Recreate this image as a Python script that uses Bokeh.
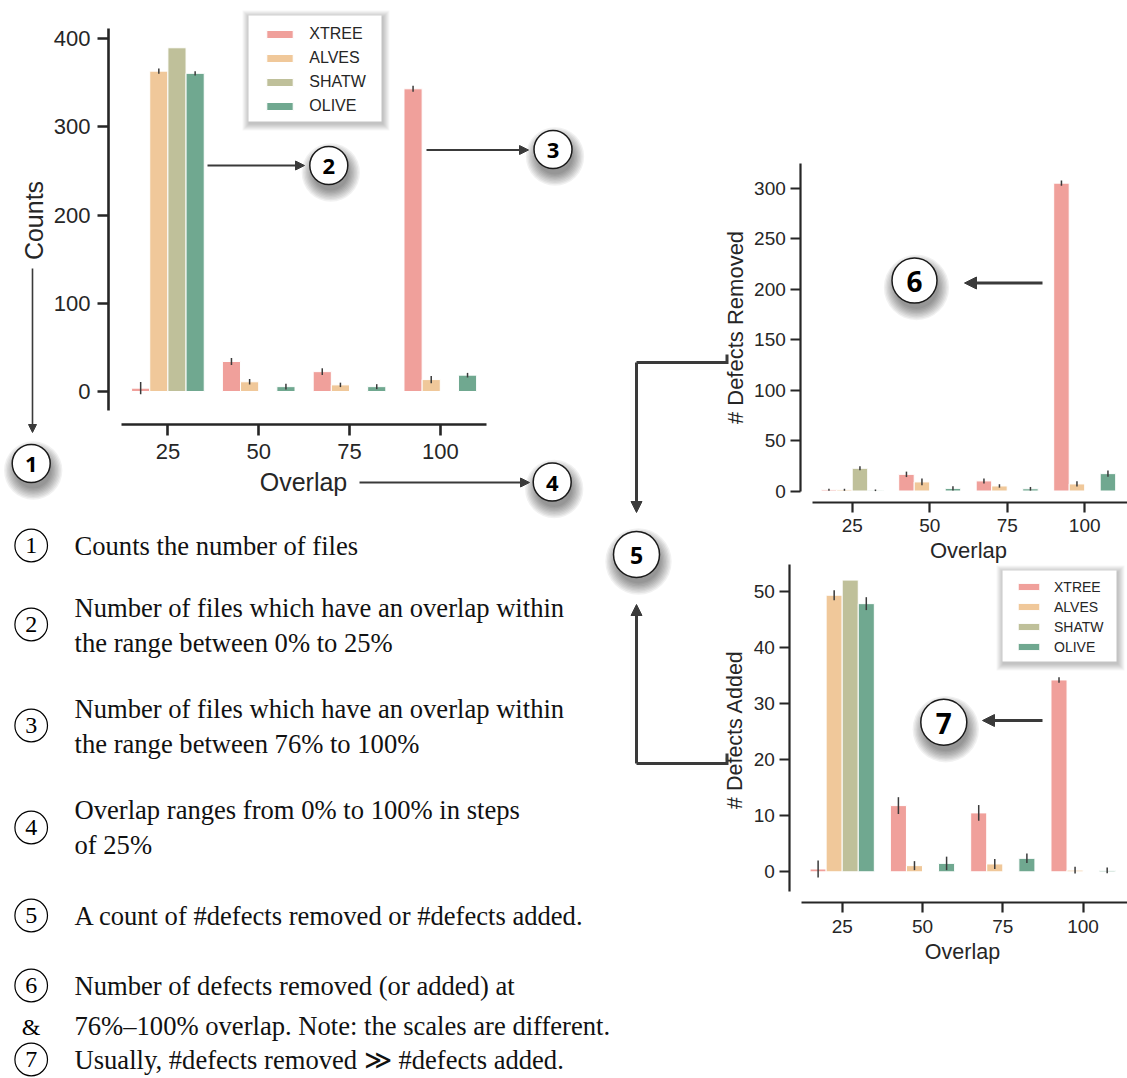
import math
from bokeh.plotting import figure
from bokeh.models import (Range1d, LinearAxis, FixedTicker, ColumnDataSource, Arrow,
                          NormalHead, Legend, LegendItem)
from bokeh.core.properties import value
from bokeh.embed import file_html
from bokeh.resources import INLINE

# ---------------- data ----------------
categories = ["25", "50", "75", "100"]
series = ["XTREE", "ALVES", "SHATW", "OLIVE"]
colors = ["#f0a09b", "#f0c89a", "#bfc09a", "#70a890"]

# Chart 1: Counts
counts_xtree = [3.8, 34.0, 22.5, 343.0]
counts_alves = [363.0, 11.0, 7.5, 13.5]
counts_shatw = [389.5, 0.0, 0.0, 0.0]
counts_olive = [360.5, 5.5, 5.5, 18.5]
counts_err_xtree = [7.0, 4.0, 3.8, 3.4]
counts_err_alves = [3.0, 3.2, 2.5, 4.2]
counts_err_shatw = [0.0, 0.0, 0.0, 0.0]
counts_err_olive = [2.5, 3.2, 2.8, 2.6]

# Chart 2: # Defects Removed
removed_xtree = [1.2, 16.5, 10.0, 305.0]
removed_alves = [1.2, 9.0, 5.0, 7.0]
removed_shatw = [22.5, 0.0, 0.0, 0.0]
removed_olive = [0.7, 2.6, 2.2, 17.2]
removed_err_xtree = [1.0, 2.7, 2.5, 2.6]
removed_err_alves = [1.0, 3.3, 1.7, 2.6]
removed_err_shatw = [2.0, 0.0, 0.0, 0.0]
removed_err_olive = [0.8, 2.0, 1.8, 3.0]

# Chart 3: # Defects Added
added_xtree = [0.5, 11.8, 10.5, 34.2]
added_alves = [49.3, 1.1, 1.4, 0.3]
added_shatw = [52.0, 0.0, 0.0, 0.0]
added_olive = [47.8, 1.5, 2.4, 0.25]
added_err_xtree = [1.5, 1.5, 1.4, 0.5]
added_err_alves = [0.9, 0.8, 0.9, 0.6]
added_err_shatw = [0.0, 0.0, 0.0, 0.0]
added_err_olive = [1.15, 1.2, 0.85, 0.5]

counts_ticks = [0, 100, 200, 300, 400]
removed_ticks = [0, 50, 100, 150, 200, 250, 300]
added_ticks = [0, 10, 20, 30, 40, 50]

notes = [
    ("1", [(545, "Counts the number of files")], 545),
    ("2", [(607, "Number of files which have an overlap within"),
           (642, "the range between 0% to 25%")], 624),
    ("3", [(708, "Number of files which have an overlap within"),
           (743, "the range between 76% to 100%")], 725),
    ("4", [(809, "Overlap ranges from 0% to 100% in steps"),
           (844, "of 25%")], 827),
    ("5", [(915, "A count of #defects removed or #defects added.")], 915),
    ("6", [(985, "Number of defects removed (or added) at")], 985),
    ("&", [(1025, "76%\u2013100% overlap. Note: the scales are different.")], 1026),
    ("7", [(1059, "Usually, #defects removed \u226b #defects added.")], 1059),
]

# ---------------- canvas ----------------
W, H = 1127, 1078
OFF = 0
INK = "#262626"
SANS = "Liberation Sans"
SERIF = "Liberation Serif"

p = figure(width=W, height=H, x_range=Range1d(OFF, OFF + W), y_range=Range1d(-(OFF + H), -OFF),
           x_axis_type=None, y_axis_type=None, toolbar_location=None, output_backend="svg",
           min_border=0, outline_line_color=None)
p.min_border_left = p.min_border_right = p.min_border_top = p.min_border_bottom = 0


def Y(py):
    return -py


def chart(name, x0, dx, y0, dy, ax_px, ay_px, xb, yb, yticks, values, errs,
          fs, lw, tlen, so_x, so_y):
    xr, yr = name + "x", name + "y"
    p.extra_x_ranges[xr] = Range1d((OFF - x0) / dx, (OFF + W - x0) / dx)
    p.extra_y_ranges[yr] = Range1d((y0 - (OFF + H)) / dy, (y0 - OFF) / dy)
    offsets = [-0.3, -0.1, 0.1, 0.3]
    rends = []
    for k, s in enumerate(series):
        v, e = values[k], errs[k]
        xs = [i + offsets[k] for i in range(len(categories))]
        src = ColumnDataSource(dict(x=xs, top=v,
                                    lo=[a - b for a, b in zip(v, e)],
                                    hi=[a + b for a, b in zip(v, e)]))
        r = p.vbar(x="x", top="top", bottom=0, width=0.2, source=src, fill_color=colors[k],
                   line_color="white", line_width=1, x_range_name=xr, y_range_name=yr)
        p.segment(x0="x", y0="lo", x1="x", y1="hi", source=src, line_color="#3a3a3a",
                  line_width=1.5, x_range_name=xr, y_range_name=yr)
        rends.append(r)
    common = dict(axis_line_color=INK, axis_line_width=lw, major_tick_line_color=INK,
                  major_tick_line_width=lw, major_tick_in=0, major_tick_out=tlen,
                  minor_tick_in=0, minor_tick_out=0, minor_tick_line_color=None,
                  major_label_text_font=SANS, major_label_text_font_size=f"{fs}px",
                  major_label_text_color=INK)
    xa = LinearAxis(x_range_name=xr, y_range_name=yr, fixed_location=(y0 - ay_px) / dy,
                    bounds=xb, ticker=FixedTicker(ticks=list(range(len(categories)))),
                    major_label_overrides={i: c for i, c in enumerate(categories)},
                    major_label_standoff=so_x, **common)
    p.add_layout(xa, "below")
    ya = LinearAxis(x_range_name=xr, y_range_name=yr, fixed_location=(ax_px - x0) / dx,
                    bounds=yb, ticker=FixedTicker(ticks=yticks),
                    major_label_standoff=so_y, **common)
    p.add_layout(ya, "left")
    return rends


r1 = chart("c1", 167.4, 90.8, 391.0, 0.8825, 108.0, 424.0, (-0.51, 3.51), (-21.5, 411.0),
           counts_ticks,
           [counts_xtree, counts_alves, counts_shatw, counts_olive],
           [counts_err_xtree, counts_err_alves, counts_err_shatw, counts_err_olive],
           22, 2.6, 11, 8, 7)
r2 = chart("c2", 851.7, 77.5, 490.5, 1.0093, 800.3, 501.7, (-0.516, 3.55), (-0.5, 324.0),
           removed_ticks,
           [removed_xtree, removed_alves, removed_shatw, removed_olive],
           [removed_err_xtree, removed_err_alves, removed_err_shatw, removed_err_olive],
           19, 2.2, 10, 7, 5)
r3 = chart("c3", 841.7, 80.3, 871.3, 5.61, 789.3, 902.3, (-0.51, 3.55), (-3.6, 54.8),
           added_ticks,
           [added_xtree, added_alves, added_shatw, added_olive],
           [added_err_xtree, added_err_alves, added_err_shatw, added_err_olive],
           19, 2.2, 10, 7, 5)


def label(x, y, t, fs, angle=0.0, font=SANS, color=INK, style="normal", align="center"):
    p.text(x=[x], y=[Y(y)], text=[t], angle=angle, text_align=align, text_baseline="middle",
           text_font=value(font), text_font_size=f"{fs}px", text_color=color,
           text_font_style=style)


# axis titles
label(33, 220, "Counts", 25, angle=math.pi / 2)
label(303, 481, "Overlap", 25)
label(735, 327, "# Defects Removed", 22, angle=math.pi / 2)
label(968, 550, "Overlap", 22)
label(734, 729, "# Defects Added", 21.5, angle=math.pi / 2)
label(962, 951, "Overlap", 21.5)


# legend boxes with soft shadows
def legend_box(l, t, r, b):
    for k in range(7, 0, -1):
        p.quad(left=l - k + 1, right=r + k + 1, top=Y(t - k + 2), bottom=Y(b + k + 2),
               fill_color="black", fill_alpha=0.035, line_color=None)
    p.quad(left=l, right=r, top=Y(t), bottom=Y(b), fill_color="white", line_color=None)


legend_box(248, 15, 381, 121)
legend_box(1002, 570, 1116, 661)


def make_legend(rends, loc, gw, gh, fs, lh, sp, so):
    lg = Legend(items=[LegendItem(label=s, renderers=[r]) for s, r in zip(series, rends)],
                location=loc, orientation="vertical", glyph_width=gw, glyph_height=gh,
                label_text_font=SANS, label_text_font_size=f"{fs}px", label_text_color=INK,
                label_height=lh, spacing=sp, padding=5, margin=0, label_standoff=so,
                background_fill_alpha=0, border_line_alpha=0)
    p.add_layout(lg)


# location is (left, bottom) in screen px from the frame's bottom-left corner
make_legend(r1, (258.3 - OFF, (OFF + H) - 121.8), 33, 10, 16, 21, 3, 13)
make_legend(r3, (1010.0 - OFF, (OFF + H) - 660.7), 27, 9, 14, 18, 2, 12)

ARROW = "#3a3a3a"


def arrow(x0, y0, x1, y1, lw, size):
    p.add_layout(Arrow(x_start=x0, y_start=Y(y0), x_end=x1, y_end=Y(y1), line_color=ARROW,
                       line_width=lw,
                       end=NormalHead(size=size, fill_color=ARROW, line_color=ARROW,
                                      line_width=1)))


arrow(32, 268, 32, 432, 1.6, 8)
arrow(207, 165, 304, 165, 2, 9)
arrow(426, 149.5, 528, 149.5, 2, 9)
arrow(359, 482, 529, 482, 2, 9)
arrow(1042, 282.5, 964, 282.5, 3, 12)
arrow(1042, 720, 982, 720, 3, 12)

# bracket connectors to badge 5
p.line(x=[726.5, 726.5, 636], y=[Y(354), Y(362), Y(362)], line_color=ARROW, line_width=3,
       line_join="miter")
arrow(636, 362, 636, 512, 3, 11)
p.line(x=[726.5, 726.5, 636], y=[Y(753), Y(763), Y(763)], line_color=ARROW, line_width=3,
       line_join="miter")
arrow(636, 763, 636, 604, 3, 11)


# numbered badges with drop shadow
def badge(cx, cy, r, t, fs):
    for k in range(9):
        p.circle(x=[cx + 2], y=[Y(cy + 7)], radius=r - 1 + k * 1.4, fill_color="black",
                 fill_alpha=0.055, line_color=None)
    p.circle(x=[cx], y=[Y(cy)], radius=r, fill_color="white", line_color="#1a1a1a",
             line_width=1.5)
    label(cx, cy + 1, t, fs, font="Open Sans", color="black", style="bold")


badge(30.7, 463, 19, "1", 22)
badge(328.3, 165, 19, "2", 22)
badge(552.5, 149, 19, "3", 22)
badge(551.7, 481.5, 19, "4", 22)
badge(636, 554, 23, "5", 23)
badge(914, 280, 22.5, "6", 28)
badge(943.3, 721.7, 23, "7", 28)

# explanatory notes
for mark, lines, cy in notes:
    if mark != "&":
        p.circle(x=[30.7], y=[Y(cy)], radius=16.3, fill_color=None, line_color="black",
                 line_width=1.2)
    label(30.7, cy, mark, 24, font=SERIF, color="black")
    for ly, txt in lines:
        label(74, ly, txt, 26.6, font=SERIF, color="#111111", align="left")

open("out.html", "w").write(file_html(p, INLINE))
